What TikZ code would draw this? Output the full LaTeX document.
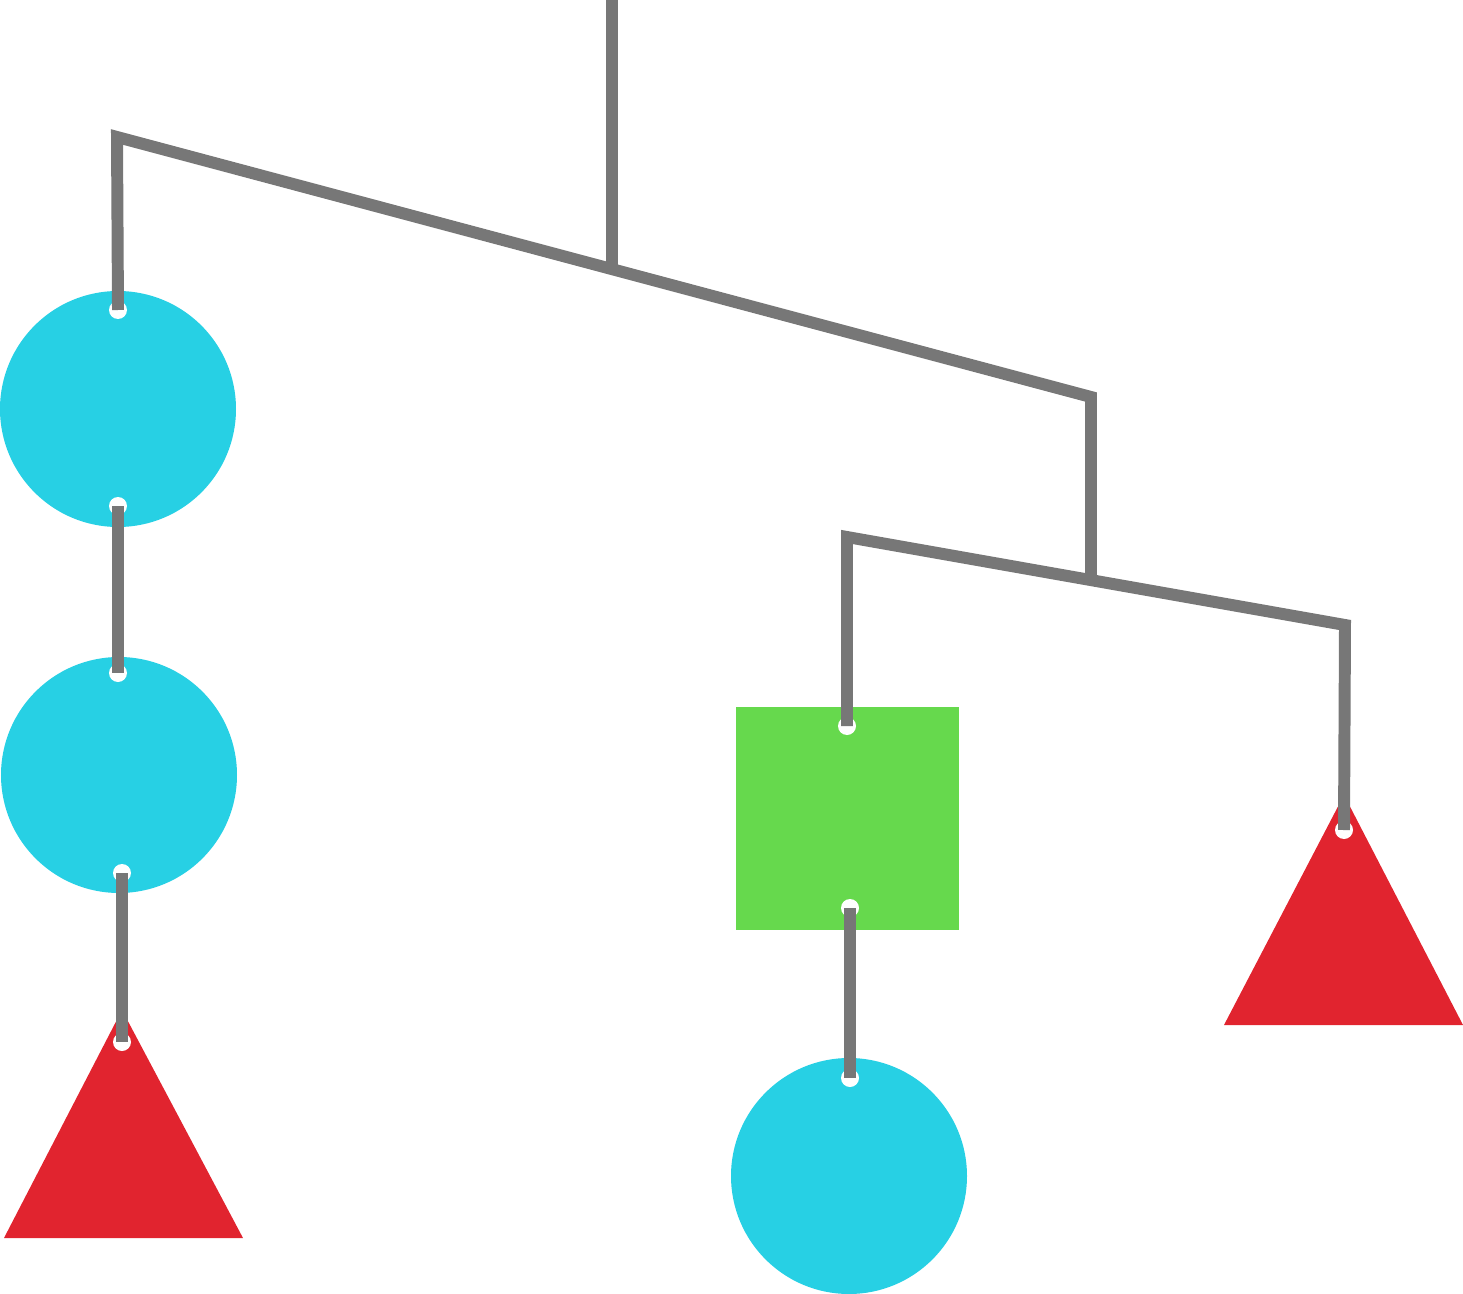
\documentclass[tikz,border=0pt]{standalone}
\usetikzlibrary{shapes.geometric}
\definecolor{rodgray}{HTML}{777777}
\definecolor{ballcyan}{HTML}{27D0E4}
\definecolor{boxgreen}{HTML}{66D94D}
\definecolor{conered}{HTML}{E1242F}
\tikzset{
  rod/.style={draw=rodgray,line width=3.4pt,line cap=butt},
  ball/.style={fill=ballcyan},
  hook/.style={fill=white}
}
\begin{document}
\begin{tikzpicture}[x=0.01cm,y=-0.01cm]
\useasboundingbox (0,0) rectangle (1463,1294);
% shapes
\fill[ball] (118,409) circle (118);
\fill[ball] (119,775) circle (118);
\fill[ball] (849,1176) circle (118);
\fill[conered] (122,1010) -- (4,1238) -- (243,1238) -- cycle;
\fill[conered] (1344,795) -- (1224,1025) -- (1463,1025) -- cycle;
\fill[boxgreen] (736,707) rectangle (959,930);
% named points
\coordinate (top) at (612,0);
\coordinate (mid) at (612,268);
\coordinate (barL) at (117,137);
\coordinate (barR) at (1091,397);
\coordinate (subC) at (1091,577);
\coordinate (subL) at (847,537);
\coordinate (subR) at (1345,625);
\foreach \n/\x/\y in {h1/118/310,h2/118/506,h3/118/673,h4/122/873,h5/122/1042,
  h6/847/726,h7/850/908,h8/850/1078,h9/1344/830}
  {\coordinate (\n) at (\x,\y); \fill[hook] (\n) circle (9);}
% rods
\draw[rod] (top) -- (mid);
\draw[rod] (h1) -- (barL) -- (barR) -- (subC);
\draw[rod] (h2) -- (h3);
\draw[rod] (h4) -- (h5);
\draw[rod] (h6) -- (subL) -- (subR) -- (h9);
\draw[rod] (h7) -- (h8);
\end{tikzpicture}
\end{document}
